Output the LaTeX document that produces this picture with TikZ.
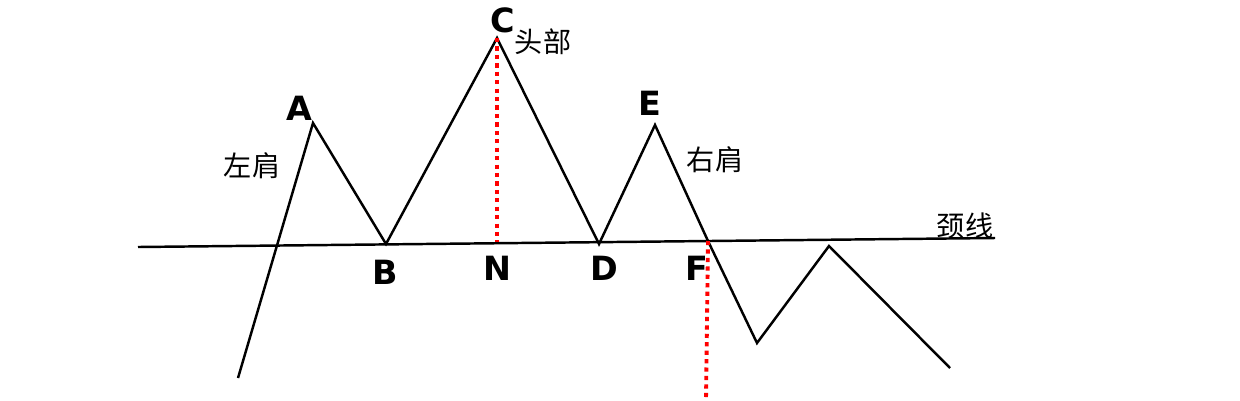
\documentclass[tikz,border=0pt]{standalone}
\usepackage{fontspec}
\setmainfont{DejaVu Sans}
\newfontfamily\cjk{Noto Sans CJK SC}
\tikzset{
  pt/.style={font=\bfseries\fontsize{19}{19}\selectfont, inner sep=0pt},
  cn/.style={font=\cjk\fontsize{16}{16}\selectfont, inner sep=0pt},
  guide/.style={red, line width=2.2pt, dash pattern=on 2.4pt off 2.4pt},
}
\begin{document}
\begin{tikzpicture}[x=0.02cm, y=-0.02cm]
    \useasboundingbox (0,0) rectangle (1240,400);
    % price path
    \coordinate (s) at (238,378);
    \coordinate (a) at (313,123);
    \coordinate (b) at (386,244);
    \coordinate (c) at (497,38);
    \coordinate (d) at (599,244);
    \coordinate (e) at (655,125);
    \coordinate (f) at (708,241);
    \coordinate (g) at (757,343);
    \coordinate (h) at (829,246);
    \coordinate (t) at (950,368);
    \coordinate (n) at (497,242);
    \coordinate (fb) at (706,400);
    \coordinate (l0) at (138,247);
    \coordinate (l1) at (995,238);
    \draw[line width=1.4pt] (l0) -- (l1);
    \draw[line width=1.4pt, line join=miter] (s) -- (a) -- (b) -- (c) -- (d) -- (e) -- (f) -- (g) -- (h) -- (t);
    \draw[guide] (c) -- (n);
    \draw[guide] (f) -- (fb);
    % labels
    \node[pt] (la) at (299,108) {A};
    \node[pt] (lb) at (385,272) {B};
    \node[pt] (lc) at (503,20) {C};
    \node[pt] (ln) at (497,268) {N};
    \node[pt] (ld) at (604,268) {D};
    \node[pt] (le) at (650,103) {E};
    \node[pt] (lf) at (697,268) {F};
    \node[cn] (head) at (543,42) {头部};
    \node[cn] (ls) at (252,166) {左肩};
    \node[cn] (rs) at (715,160) {右肩};
    \node[cn] (neck) at (965,226) {颈线};
\end{tikzpicture}
\end{document}
